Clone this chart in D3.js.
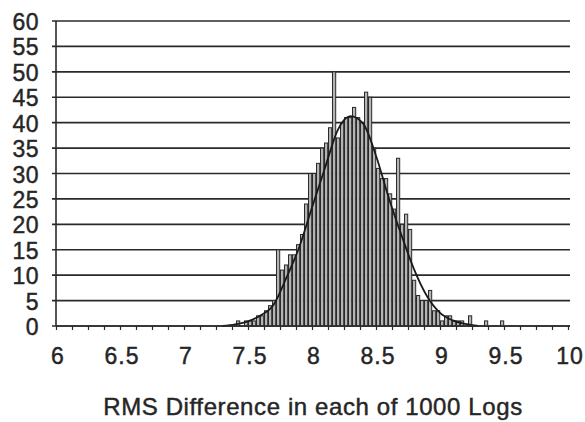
<!DOCTYPE html>
<html>
<head>
<meta charset="utf-8">
<script src="https://cdnjs.cloudflare.com/ajax/libs/d3/7.8.5/d3.min.js"></script>
<style>
  body { margin: 0; background: #fff; }
  text { font-family: "Liberation Sans", Arial, Helvetica, sans-serif; fill: #262626; stroke: #262626; stroke-width: 0.45px; }
</style>
</head>
<body>
<div id="my_dataviz"></div>
<script>
// histogram bins: left edge of first bin and bin width (in RMS units)
var binStart = 7.375;
var binWidth = 0.03125;
// counts per bin
var counts = [0, 1, 0, 1, 1, 1, 2, 2, 3, 4, 5, 15, 11, 12, 14, 14, 16, 18, 24, 30,
              30, 32, 35, 36, 39, 50, 37, 40, 41, 41, 43, 41, 40, 46, 45, 35, 31, 29, 29, 26,
              23, 33, 20, 22, 19, 9, 6, 5, 5, 7, 3, 3, 1, 2, 2, 1, 1, 1, 0, 2,
              0, 0, 0, 1, 0, 0, 0, 1];

// fitted curve
var curveX = [7.3, 7.4, 7.5, 7.6, 7.7, 7.8, 7.9, 8.0, 8.1, 8.2, 8.3,
              8.4, 8.5, 8.6, 8.7, 8.8, 8.9, 9.0, 9.1, 9.2, 9.3];
var curveY = [0, 0.3, 0.9, 2.1, 4.2, 9.5, 15.5, 23.3, 31, 38.5, 41.3,
              39.8, 33.5, 25.2, 17.8, 11, 5.8, 2.6, 1.1, 0.4, 0];

var xLabels = [6, 6.5, 7, 7.5, 8, 8.5, 9, 9.5, 10];
var yTicks = [0, 5, 10, 15, 20, 25, 30, 35, 40, 45, 50, 55, 60];
var xTitle = "RMS Difference in each of 1000 Logs";

//////////////////////////////////////////////////////////////////////////////
var margin = {top: 21, right: 17, bottom: 96, left: 56},
    width = 585 - margin.left - margin.right,
    height = 422 - margin.top - margin.bottom;

var svg = d3.select("#my_dataviz")
  .append("svg")
    .attr("width", 585)
    .attr("height", 422)
  .append("g")
    .attr("transform", "translate(" + margin.left + "," + margin.top + ")");

var x = d3.scaleLinear()
  .domain([6, 10])
  .range([0, 512]);

var y = d3.scaleLinear()
  .domain([0, 60])
  .range([height, 0]);

// gridlines (drawn first so they sit behind the bars)
svg.append("g")
  .selectAll("line")
  .data(yTicks)
  .enter()
  .append("line")
    .attr("x1", -4)
    .attr("x2", width + 2)
    .attr("y1", function(d) { return y(d); })
    .attr("y2", function(d) { return y(d); })
    .style("stroke", "#2a2a2a")
    .style("stroke-width", 1.6);

// y tick labels
svg.append("g")
  .selectAll("text")
  .data(yTicks)
  .enter()
  .append("text")
    .attr("x", -17)
    .attr("y", function(d) { return y(d) + 9; })
    .attr("text-anchor", "end")
    .style("font-size", "23px")
    .style("letter-spacing", "0.5px")
    .text(function(d) { return d; });

// bars
svg.append("g")
  .selectAll("rect")
  .data(counts)
  .enter()
  .append("rect")
    .attr("x", function(d, i) { return x(binStart + i * binWidth) + 0.5; })
    .attr("width", function(d, i) { return x(binStart + (i + 1) * binWidth) - x(binStart + i * binWidth) - 0.8; })
    .attr("y", function(d) { return y(d); })
    .attr("height", function(d) { return height - y(d); })
    .style("fill", "#b4b4b4")
    .style("stroke", "#2a2a2a")
    .style("stroke-width", 1)
    .style("display", function(d) { return d > 0 ? null : "none"; });

// fitted curve
var pts = curveX.map(function(v, i) { return [v, curveY[i]]; });
svg.append("path")
  .datum(pts)
  .attr("d", d3.line()
    .x(function(d) { return x(d[0]); })
    .y(function(d) { return y(d[1]); })
    .curve(d3.curveMonotoneX))
  .style("fill", "none")
  .style("stroke", "#1a1a1a")
  .style("stroke-width", 1.8);

// y axis line
svg.append("line")
  .attr("x1", 0).attr("x2", 0)
  .attr("y1", 0).attr("y2", height)
  .style("stroke", "#2a2a2a")
  .style("stroke-width", 1.6);

// x axis with small ticks every 0.125
svg.append("g")
  .attr("transform", "translate(0," + height + ")")
  .call(d3.axisBottom(x)
    .tickValues(d3.range(6, 10.001, 0.125))
    .tickSize(4)
    .tickFormat(""))
  .call(function(g) {
    g.select(".domain").attr("d", "M0,0H" + (width + 2)).style("stroke", "#2a2a2a").style("stroke-width", 1.6);
    g.selectAll(".tick line").style("stroke", "#2a2a2a").style("stroke-width", 1.2);
  });

// x labels
svg.append("g")
  .selectAll("text")
  .data(xLabels)
  .enter()
  .append("text")
    .attr("x", function(d) { return x(d) + 2; })
    .attr("y", height + 38)
    .attr("text-anchor", "middle")
    .style("font-size", "23px")
    .style("letter-spacing", "1px")
    .text(function(d) { return d; });

// axis title
svg.append("text")
  .attr("x", 257)
  .attr("y", height + 89)
  .attr("text-anchor", "middle")
  .style("font-size", "24px")
  .style("letter-spacing", "0.6px")
  .text(xTitle);
</script>
</body>
</html>
